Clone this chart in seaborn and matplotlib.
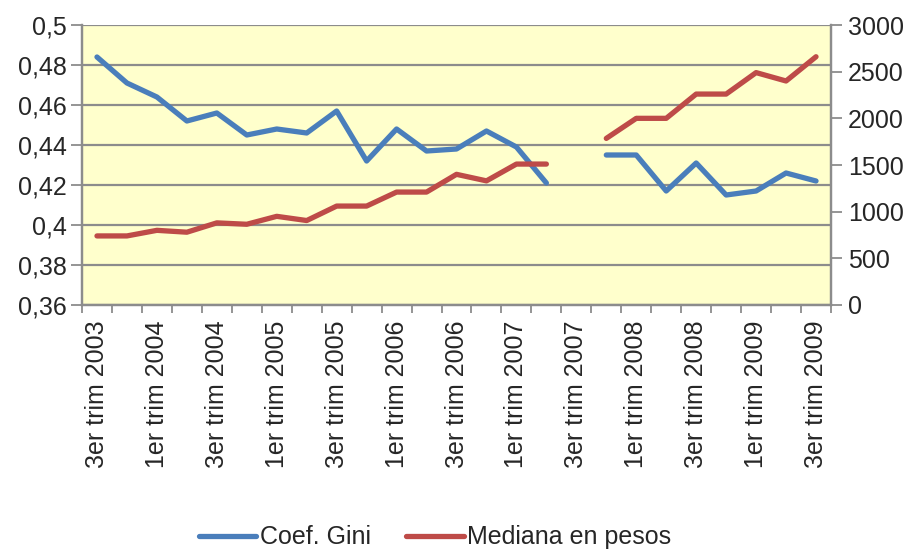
import numpy as np
import pandas as pd
import matplotlib
matplotlib.use("Agg")
import matplotlib.pyplot as plt
from matplotlib.ticker import FixedLocator, FuncFormatter
from matplotlib.lines import Line2D
import seaborn as sns

# Quarterly series, 3er trim 2003 .. 3er trim 2009 (3er trim 2007 missing)
trimestres = [
    "3er trim 2003", "4to trim 2003",
    "1er trim 2004", "2do trim 2004", "3er trim 2004", "4to trim 2004",
    "1er trim 2005", "2do trim 2005", "3er trim 2005", "4to trim 2005",
    "1er trim 2006", "2do trim 2006", "3er trim 2006", "4to trim 2006",
    "1er trim 2007", "2do trim 2007", "3er trim 2007", "4to trim 2007",
    "1er trim 2008", "2do trim 2008", "3er trim 2008", "4to trim 2008",
    "1er trim 2009", "2do trim 2009", "3er trim 2009",
]
gini = [0.484, 0.471, 0.464, 0.452, 0.456, 0.445, 0.448, 0.446, 0.457, 0.432,
        0.448, 0.437, 0.438, 0.447, 0.439, 0.421, np.nan, 0.435, 0.435, 0.417,
        0.431, 0.415, 0.417, 0.426, 0.422]
mediana = [740, 740, 800, 780, 880, 865, 950, 905, 1060, 1060,
           1210, 1210, 1400, 1330, 1510, 1510, np.nan, 1785, 2000, 2000,
           2260, 2260, 2490, 2400, 2660]

gini_ticks = [0.36, 0.38, 0.40, 0.42, 0.44, 0.46, 0.48, 0.50]
mediana_ticks = [0, 500, 1000, 1500, 2000, 2500, 3000]

AZUL = "#4A7EBB"
ROJO = "#BE4B48"
GRIS = "#8C8C8C"
FS = 18

sns.set_theme(style="white")
plt.rcParams["font.family"] = ["Liberation Sans", "DejaVu Sans"]

df = pd.DataFrame({"pos": np.arange(len(trimestres)),
                   "trimestre": trimestres,
                   "gini": gini,
                   "mediana": mediana})
# break the lines at the missing quarter
df["tramo"] = np.where(df["pos"] < 16, 0, 1)
df = df.dropna()

fig = plt.figure(figsize=(9.16, 5.54), dpi=100)
ax = fig.add_axes([82 / 916, 1 - 305 / 554, (831 - 82) / 916, (305 - 25) / 554])
ax.set_facecolor("#FFFFCC")
ax2 = ax.twinx()

for y in gini_ticks:
    ax.axhline(y, color=GRIS, lw=1.6, zorder=0.5)

sns.lineplot(data=df, x="pos", y="gini", units="tramo", estimator=None,
             color=AZUL, lw=3.8, ax=ax, solid_capstyle="round",
             solid_joinstyle="round", legend=False)
sns.lineplot(data=df, x="pos", y="mediana", units="tramo", estimator=None,
             color=ROJO, lw=3.8, ax=ax2, solid_capstyle="round",
             solid_joinstyle="round", legend=False)

n = len(trimestres)
ax.set_xlim(-0.5, n - 0.5)
ax.set_ylim(gini_ticks[0], gini_ticks[-1])
ax2.set_ylim(mediana_ticks[0], mediana_ticks[-1])

ax.xaxis.set_major_locator(FixedLocator(list(range(0, n, 2))))
ax.set_xticklabels([trimestres[i] for i in range(0, n, 2)], rotation=90)
ax.xaxis.set_minor_locator(FixedLocator(list(np.arange(-0.5, n, 1.0))))
ax.tick_params(axis="x", which="major", length=0, pad=11, labelsize=FS)
ax.tick_params(axis="x", which="minor", length=6, width=1.3, color=GRIS,
               direction="out", bottom=True)

ax.set_yticks(gini_ticks)
ax.yaxis.set_major_formatter(FuncFormatter(lambda v, p: f"{v:g}".replace(".", ",")))
ax.tick_params(axis="y", length=8, width=1.3, color=GRIS, direction="out",
               labelsize=FS, pad=3, left=True)

ax2.set_yticks(mediana_ticks)
ax2.tick_params(axis="y", length=8, width=1.3, color=GRIS, direction="out",
                labelsize=FS, pad=4, right=True)

ax.set_xlabel("")
ax.set_ylabel("")
ax2.set_ylabel("")
ax2.grid(False)
ax.grid(False)

for a in (ax, ax2):
    for side in ("left", "right", "bottom"):
        a.spines[side].set_color(GRIS)
        a.spines[side].set_linewidth(1.6)
    a.spines["top"].set_visible(False)

handles = [Line2D([], [], color=AZUL, lw=3.8, solid_capstyle="round"),
           Line2D([], [], color=ROJO, lw=3.8, solid_capstyle="round")]
fig.legend(handles, ["Coef. Gini", "Mediana en pesos"], loc="center",
           bbox_to_anchor=(0.475, 0.03), ncol=2, frameon=False,
           fontsize=FS, handlelength=2.3, handletextpad=0.15,
           columnspacing=1.4)

fig.savefig("out.png", dpi=100, facecolor="white")
